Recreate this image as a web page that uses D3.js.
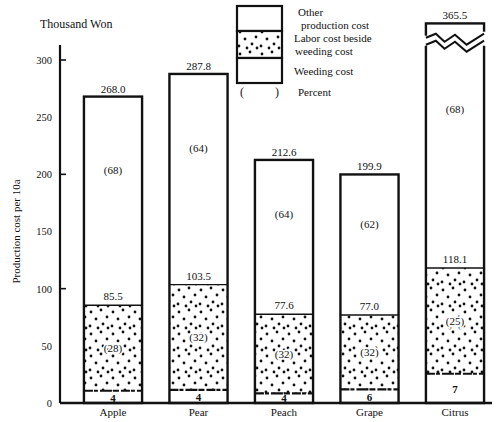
<!DOCTYPE html>
<html>
<head>
<meta charset="utf-8">
<script src="https://cdn.jsdelivr.net/npm/d3@7"></script>
<style>
  body { margin: 0; background: #fff; }
  svg text { font-family: 'Liberation Serif', 'Times New Roman', 'DejaVu Serif', serif; fill: #111; }
</style>
</head>
<body>
<div id="chart"></div>
<script>
// values (thousand won per 10a)
const categories = ['Apple', 'Pear', 'Peach', 'Grape', 'Citrus'];
const totalCost = [268.0, 287.8, 212.6, 199.9, 365.5];
const laborTop = [85.5, 103.5, 77.6, 77.0, 118.1];   // weeding + labor beside weeding
const weedingCost = [10.7, 11.5, 8.5, 12.0, 25.6];
const otherPct = [68, 64, 64, 62, 68];
const laborPct = [28, 32, 32, 32, 25];
const weedingPct = [4, 4, 4, 6, 7];
const yTicks = [0, 50, 100, 150, 200, 250, 300];
const markedTicks = [100, 200, 300];
const legendLines = [
    ['Other', 'production cost'],
    ['Labor cost beside', 'weeding cost'],
    ['Weeding cost']
];

const width = 498, height = 422;
const margin = {top: 60, left: 60, bottom: 19};
const axisTop = 45;
const shownMax = 332;        // bars taller than this are cut with a break
const breakAt = 316;
const serif = "'Liberation Serif', 'Times New Roman', serif";

const data = categories.map((c, i) => ({
    name: c,
    total: totalCost[i],
    labor: laborTop[i],
    weeding: weedingCost[i],
    pOther: otherPct[i],
    pLabor: laborPct[i],
    pWeed: weedingPct[i]
}));

const svg = d3.select('#chart').append('svg')
    .attr('width', width)
    .attr('height', height)
    .attr('font-family', serif);

// dotted fill
const defs = svg.append('defs');
const pat = defs.append('pattern')
    .attr('id', 'dots')
    .attr('patternUnits', 'userSpaceOnUse')
    .attr('width', 22).attr('height', 22);
pat.append('rect').attr('width', 22).attr('height', 22).attr('fill', '#fff');
[[3, 4], [13, 2], [19, 9], [8, 11], [15, 16], [2, 18], [10, 20], [20, 20]].forEach(p => {
    pat.append('circle').attr('cx', p[0]).attr('cy', p[1]).attr('r', 1.4).attr('fill', '#111');
});

const x = d3.scaleBand()
    .domain(categories)
    .range([margin.left, 508])
    .paddingInner(0.32)
    .paddingOuter(0.28);

const y = d3.scaleLinear()
    .domain([0, 300])
    .range([height - margin.bottom, margin.top]);

const shown = d => Math.min(d.total, shownMax);
const barTop = d => y(shown(d));

// axis
const yAxis = svg.append('g')
    .attr('transform', 'translate(' + margin.left + ',0)')
    .call(d3.axisLeft(y).tickValues(yTicks).tickSize(0).tickPadding(8));
yAxis.select('.domain').remove();
yAxis.attr('font-family', serif).attr('font-size', 10.5);
yAxis.selectAll('text').style('font-family', serif);

svg.append('line')
    .attr('x1', margin.left).attr('x2', margin.left)
    .attr('y1', axisTop).attr('y2', y(0))
    .attr('stroke', '#111').attr('stroke-width', 2.2);

svg.append('g').selectAll('line')
    .data(markedTicks)
    .enter()
    .append('line')
    .attr('x1', margin.left).attr('x2', margin.left + 6)
    .attr('y1', d => y(d)).attr('y2', d => y(d))
    .attr('stroke', '#111').attr('stroke-width', 1.6);

svg.append('text')
    .text('Thousand Won')
    .attr('x', 40).attr('y', 28)
    .style('font-size', '12px');

svg.append('text')
    .text('Production cost per 10a')
    .attr('transform', 'translate(20,' + y(150) + ') rotate(-90)')
    .attr('text-anchor', 'middle')
    .style('font-size', '11px');

const bars = svg.append('g').selectAll('g')
    .data(data)
    .enter()
    .append('g');

// labor section (dots)
bars.append('rect')
    .attr('x', d => x(d.name))
    .attr('width', x.bandwidth())
    .attr('y', d => y(d.labor))
    .attr('height', d => y(d.weeding) - y(d.labor))
    .attr('fill', 'url(#dots)');

// section lines
bars.append('line')
    .attr('x1', d => x(d.name)).attr('x2', d => x(d.name) + x.bandwidth())
    .attr('y1', d => y(d.labor)).attr('y2', d => y(d.labor))
    .attr('stroke', '#111').attr('stroke-width', 1.4);

bars.append('line')
    .attr('x1', d => x(d.name)).attr('x2', d => x(d.name) + x.bandwidth())
    .attr('y1', d => y(d.weeding)).attr('y2', d => y(d.weeding))
    .attr('stroke', '#111').attr('stroke-width', 2.2)
    .attr('stroke-dasharray', '9,1,4,2,12,1,6,2');

// outline
bars.append('rect')
    .attr('x', d => x(d.name))
    .attr('width', x.bandwidth())
    .attr('y', d => barTop(d))
    .attr('height', d => y(0) - barTop(d))
    .attr('fill', 'none')
    .attr('stroke', '#111')
    .attr('stroke-width', 2.4);

// break for bars above shownMax
const cut = bars.filter(d => d.total > shownMax);
const zig = (d, off) => {
    const x0 = x(d.name), w = x.bandwidth();
    const steps = [[0, 4], [0.17, 0], [0.32, 8], [0.5, 1], [0.7, 11], [1, 0]];
    return steps.map(s => [x0 + s[0] * w, y(breakAt) - 8 + s[1] + off]);
};
cut.append('path')
    .attr('d', d => {
        const a = zig(d, 0), b = zig(d, 7).reverse();
        return d3.line()(a.concat(b)) + 'Z';
    })
    .attr('fill', '#fff')
    .attr('stroke', 'none');
cut.append('rect')
    .attr('x', d => x(d.name) - 3)
    .attr('width', 6)
    .attr('y', d => y(breakAt) - 6)
    .attr('height', 10)
    .attr('fill', '#fff');
cut.append('rect')
    .attr('x', d => x(d.name) + x.bandwidth() - 3)
    .attr('width', 6)
    .attr('y', d => y(breakAt) - 10)
    .attr('height', 14)
    .attr('fill', '#fff');
[0, 7].forEach(off => {
    cut.append('path')
        .attr('d', d => d3.line()(zig(d, off)))
        .attr('fill', 'none')
        .attr('stroke', '#111')
        .attr('stroke-width', 2);
});

// baseline
svg.append('line')
    .attr('x1', margin.left).attr('x2', 492)
    .attr('y1', y(0)).attr('y2', y(0))
    .attr('stroke', '#111').attr('stroke-width', 2.4);

const cx = d => x(d.name) + x.bandwidth() / 2;

bars.append('text')
    .text(d => d.total.toFixed(1))
    .attr('x', cx)
    .attr('y', d => barTop(d) - 4)
    .attr('text-anchor', 'middle')
    .style('font-size', '11px');

bars.append('text')
    .text(d => '(' + d.pOther + ')')
    .attr('x', cx)
    .attr('y', d => y(d.labor + 0.65 * (shown(d) - d.labor)))
    .attr('text-anchor', 'middle')
    .attr('dominant-baseline', 'central')
    .style('font-size', '11px');

bars.append('text')
    .text(d => d.labor.toFixed(1))
    .attr('x', cx)
    .attr('y', d => y(d.labor) - 5)
    .attr('text-anchor', 'middle')
    .style('font-size', '11px');

bars.append('text')
    .text(d => '(' + d.pLabor + ')')
    .attr('x', cx)
    .attr('y', d => y((d.labor + d.weeding) / 2))
    .attr('text-anchor', 'middle')
    .attr('dominant-baseline', 'central')
    .style('font-size', '11px')
    .style('paint-order', 'stroke')
    .style('stroke', '#fff')
    .style('stroke-width', 3);

bars.append('text')
    .text(d => d.pWeed)
    .attr('x', cx)
    .attr('y', d => Math.min(y(d.weeding / 2) + 1, y(0) - 5))
    .attr('text-anchor', 'middle')
    .attr('dominant-baseline', 'central')
    .style('font-size', '11px')
    .style('font-weight', 'bold');

// category labels
svg.append('g').selectAll('text')
    .data(categories)
    .enter()
    .append('text')
    .text(d => d)
    .attr('x', d => x(d) + x.bandwidth() / 2)
    .attr('y', y(0) + 13)
    .attr('text-anchor', 'middle')
    .style('font-size', '11px');

// legend
const lg = svg.append('g').attr('transform', 'translate(237,6)');
const rowH = [25, 27, 25];
let ly = 0;
rowH.forEach((h, i) => {
    lg.append('rect')
        .attr('x', 0).attr('y', ly)
        .attr('width', 45).attr('height', h)
        .attr('fill', i === 1 ? 'url(#dots)' : '#fff')
        .attr('stroke', '#111')
        .attr('stroke-width', 2.2);
    const lines = legendLines[i];
    lg.append('g').selectAll('text')
        .data(lines)
        .enter()
        .append('text')
        .text(t => t)
        .attr('x', (t, j) => i === 0 ? 61 + j * 3 : 57 + j)
        .attr('y', (t, j) => lines.length === 1 ? ly + h / 2 + 4 : ly + h / 2 + (j - 0.5) * 12.5 + 4)
        .style('font-size', '11px');
    ly += h;
});
lg.append('text').text('(').attr('x', 3).attr('y', 90).style('font-size', '12px');
lg.append('text').text(')').attr('x', 38).attr('y', 90).style('font-size', '12px');
lg.append('text').text('Percent').attr('x', 61).attr('y', 90).style('font-size', '11px');
</script>
</body>
</html>
